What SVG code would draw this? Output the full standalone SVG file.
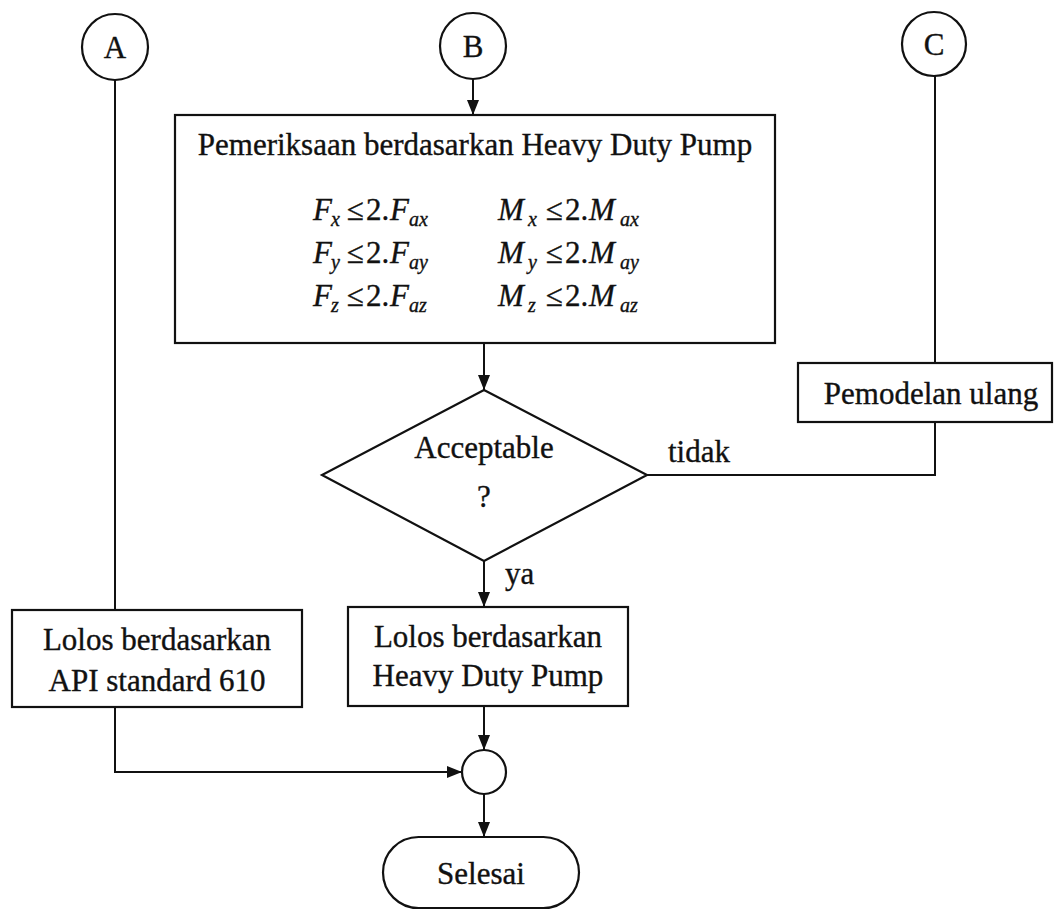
<svg xmlns="http://www.w3.org/2000/svg" width="1055" height="913" viewBox="0 0 1055 913">
  <style>
    .shape { fill: #ffffff; stroke: #111111; stroke-width: 2.2; }
    .conn { fill: none; stroke: #111111; stroke-width: 2; }
    .lbl { font-family: "Liberation Serif", "Times New Roman", serif; font-size: 31px; fill: #111111; stroke: #111111; stroke-width: 0.35; }
    .mid { text-anchor: middle; }
    .var { font-style: italic; }
    .sub { font-style: italic; font-size: 20px; }
  </style>
  <defs>
    <marker id="arrow" viewBox="0 0 15 12" refX="15" refY="6" markerWidth="15" markerHeight="12" markerUnits="userSpaceOnUse" orient="auto">
      <path d="M0,0 L15,6 L0,12 Z" fill="#111111"/>
    </marker>
  </defs>
  <rect width="1055" height="913" fill="#ffffff"/>

  <!-- connectors -->
  <g id="connectors">
    <path class="conn" d="M115,80 V610"/>
    <path class="conn" d="M473,79 V115" marker-end="url(#arrow)"/>
    <path class="conn" d="M484,343 V390" marker-end="url(#arrow)"/>
    <path class="conn" d="M647,475 H935 V422"/>
    <path class="conn" d="M935,76 V363"/>
    <path class="conn" d="M484,561 V607" marker-end="url(#arrow)"/>
    <path class="conn" d="M115,707 V772 H462" marker-end="url(#arrow)"/>
    <path class="conn" d="M484,706 V750" marker-end="url(#arrow)"/>
    <path class="conn" d="M484,794 V837" marker-end="url(#arrow)"/>
    <text class="lbl" x="668" y="462">tidak</text>
    <text class="lbl" x="505" y="584">ya</text>
  </g>

  <!-- connector A -->
  <g id="node-a">
    <circle class="shape" cx="115" cy="47" r="33"/>
    <text class="lbl mid" x="115" y="58">A</text>
  </g>

  <!-- connector B -->
  <g id="node-b">
    <circle class="shape" cx="473" cy="46" r="33"/>
    <text class="lbl mid" x="473" y="57">B</text>
  </g>

  <!-- connector C -->
  <g id="node-c">
    <circle class="shape" cx="934" cy="44" r="32"/>
    <text class="lbl mid" x="934" y="55">C</text>
  </g>

  <!-- check against heavy duty pump limits -->
  <g id="node-check">
    <rect class="shape" x="175" y="115" width="600" height="228"/>
    <text class="lbl mid" x="475" y="155">Pemeriksaan berdasarkan Heavy Duty Pump</text>
    <text class="lbl"><tspan class="var" x="313" y="220">F</tspan><tspan class="sub" x="331" y="226">x</tspan><tspan x="347" y="220">≤</tspan><tspan x="366" y="220">2.</tspan><tspan class="var" x="390" y="220">F</tspan><tspan class="sub" x="409" y="226">ax</tspan></text>
    <text class="lbl"><tspan class="var" x="313" y="263">F</tspan><tspan class="sub" x="331" y="269">y</tspan><tspan x="347" y="263">≤</tspan><tspan x="366" y="263">2.</tspan><tspan class="var" x="390" y="263">F</tspan><tspan class="sub" x="409" y="269">ay</tspan></text>
    <text class="lbl"><tspan class="var" x="313" y="306">F</tspan><tspan class="sub" x="331" y="312">z</tspan><tspan x="347" y="306">≤</tspan><tspan x="366" y="306">2.</tspan><tspan class="var" x="390" y="306">F</tspan><tspan class="sub" x="409" y="312">az</tspan></text>
    <text class="lbl"><tspan class="var" x="498" y="220">M</tspan><tspan class="sub" x="528" y="226">x</tspan><tspan x="546" y="220">≤</tspan><tspan x="565" y="220">2.</tspan><tspan class="var" x="589" y="220">M</tspan><tspan class="sub" x="620" y="226">ax</tspan></text>
    <text class="lbl"><tspan class="var" x="498" y="263">M</tspan><tspan class="sub" x="528" y="269">y</tspan><tspan x="546" y="263">≤</tspan><tspan x="565" y="263">2.</tspan><tspan class="var" x="589" y="263">M</tspan><tspan class="sub" x="620" y="269">ay</tspan></text>
    <text class="lbl"><tspan class="var" x="498" y="306">M</tspan><tspan class="sub" x="528" y="312">z</tspan><tspan x="546" y="306">≤</tspan><tspan x="565" y="306">2.</tspan><tspan class="var" x="589" y="306">M</tspan><tspan class="sub" x="620" y="312">az</tspan></text>
  </g>

  <!-- decision -->
  <g id="node-decision">
    <polygon class="shape" points="484,390 647,475 484,561 322,475"/>
    <text class="lbl mid" x="484" y="458">Acceptable</text>
    <text class="lbl mid" x="484" y="507">?</text>
  </g>

  <!-- remodel -->
  <g id="node-remodel">
    <rect class="shape" x="798" y="363" width="254" height="59"/>
    <text class="lbl mid" x="931" y="404">Pemodelan ulang</text>
  </g>

  <!-- pass per API 610 -->
  <g id="node-pass-api">
    <rect class="shape" x="12" y="610" width="290" height="97"/>
    <text class="lbl mid" x="157" y="650">Lolos berdasarkan</text>
    <text class="lbl mid" x="157" y="691">API standard 610</text>
  </g>

  <!-- pass per heavy duty pump -->
  <g id="node-pass-hdp">
    <rect class="shape" x="348" y="607" width="280" height="99"/>
    <text class="lbl mid" x="488" y="647">Lolos berdasarkan</text>
    <text class="lbl mid" x="488" y="686">Heavy Duty Pump</text>
  </g>

  <!-- merge point -->
  <g id="node-merge">
    <circle class="shape" cx="484" cy="772" r="22"/>
  </g>

  <!-- end -->
  <g id="node-end">
    <rect class="shape" x="383" y="837" width="196" height="71" rx="35.5" ry="35.5"/>
    <text class="lbl mid" x="481" y="884">Selesai</text>
  </g>
</svg>
